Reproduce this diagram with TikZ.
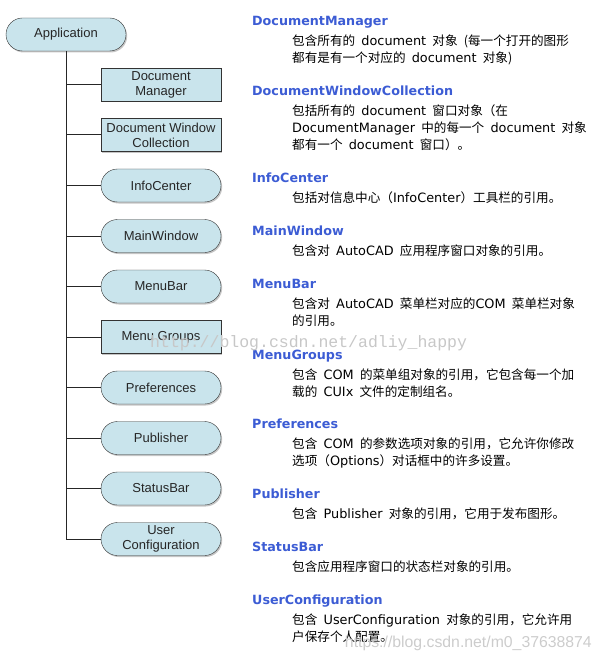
\documentclass[tikz,border=0pt]{standalone}
\usepackage{fontspec}
\setmainfont{Liberation Sans}
\newfontfamily\verd{DejaVu Sans}
\newfontfamily\latn[Scale=1.02]{DejaVu Sans}
\newfontfamily\cjk[WordSpace=2.2]{Noto Sans CJK SC}
\newfontfamily\wmfont{Liberation Mono}
\usetikzlibrary{positioning,shapes.misc,shadows}
\definecolor{boxblue}{RGB}{201,228,236}
\definecolor{headblue}{RGB}{60,92,212}
\newcommand{\en}[1]{{\latn #1}}
\tikzset{
  obj/.style={draw=black!80, fill=boxblue, rounded rectangle, minimum width=120pt, minimum height=33pt,
    inner sep=0pt, align=center, text=black!85, font=\fontsize{13}{15}\selectfont,
    drop shadow={shadow xshift=1.2pt, shadow yshift=-1.5pt, fill=black!45}},
  coll/.style={obj, rectangle},
  branch/.style={draw=black!85, line width=1pt},
  head/.style={anchor=west, inner sep=0pt, text height=9.3pt, text depth=0pt, text=headblue,
    font=\verd\bfseries\fontsize{12.7}{15}\selectfont},
  desc/.style={inner sep=0pt, align=left, font=\cjk\fontsize{12.6}{17}\selectfont}
}
\begin{document}
\begin{tikzpicture}[x=1pt,y=-1pt]
\useasboundingbox (0,0) rectangle (601,663);
\node[obj] (app) at (66,34.5) {Application};
\foreach \nm/\st/\txt [count=\i from 0] in {dm/coll/Document\\Manager, dwc/coll/Document Window\\Collection,
  ic/obj/InfoCenter, mw/obj/MainWindow, mb/obj/MenuBar, mg/coll/Menu Groups, pr/obj/Preferences,
  pb/obj/Publisher, sb/obj/StatusBar, uc/obj/User\\Configuration}
{
  \node[\st] (\nm) at (161,84.5+50.5*\i) {\txt};
  \draw[branch] (app.south) |- (\nm.west);
}
\node[head] (hdm) at (252,21) {DocumentManager};
\node[desc, below right=13.5pt and 40pt of hdm.west] (tdm) {包含所有的 \en{document} 对象 (每一个打开的图形\\都有是有一个对应的 \en{document} 对象)};
\node[head] (hdwc) at (252,91) {DocumentWindowCollection};
\node[desc, below right=13.5pt and 40pt of hdwc.west] (tdwc) {包括所有的 \en{document} 窗口对象（在\\\en{DocumentManager} 中的每一个 \en{document} 对象\\都有一个 \en{document} 窗口）。};
\node[head] (hic) at (252,178) {InfoCenter};
\node[desc, below right=13.5pt and 40pt of hic.west] (tic) {包括对信息中心（\en{InfoCenter}）工具栏的引用。};
\node[head] (hmw) at (252,231) {MainWindow};
\node[desc, below right=13.5pt and 40pt of hmw.west] (tmw) {包含对 \en{AutoCAD} 应用程序窗口对象的引用。};
\node[head] (hmb) at (252,284) {MenuBar};
\node[desc, below right=13.5pt and 40pt of hmb.west] (tmb) {包含对 \en{AutoCAD} 菜单栏对应的\en{COM} 菜单栏对象\\的引用。};
\node[head] (hmg) at (252,355) {MenuGroups};
\node[desc, below right=13.5pt and 40pt of hmg.west] (tmg) {包含 \en{COM} 的菜单组对象的引用，它包含每一个加\\载的 \en{CUIx} 文件的定制组名。};
\node[head] (hpr) at (252,424) {Preferences};
\node[desc, below right=13.5pt and 40pt of hpr.west] (tpr) {包含 \en{COM} 的参数选项对象的引用，它允许你修改\\选项（\en{Options}）对话框中的许多设置。};
\node[head] (hpb) at (252,494) {Publisher};
\node[desc, below right=13.5pt and 40pt of hpb.west] (tpb) {包含 \en{Publisher} 对象的引用，它用于发布图形。};
\node[head] (hsb) at (252,547) {StatusBar};
\node[desc, below right=13.5pt and 40pt of hsb.west] (tsb) {包含应用程序窗口的状态栏对象的引用。};
\node[head] (huc) at (252,600) {UserConfiguration};
\node[desc, below right=13.5pt and 40pt of huc.west] (tuc) {包含 \en{UserConfiguration} 对象的引用，它允许用\\户保存个人配置。};
\node[anchor=west, inner sep=0pt, text=black!22, font=\wmfont\fontsize{16.5}{18}\selectfont] (wm1) at (150,343) {http://blog.csdn.net/adliy\_happy};
\node[anchor=east, inner sep=0pt, text=black!20, font=\fontsize{15.8}{18}\selectfont] (wm2) at (592,643) {https://blog.csdn.net/m0\_37638874};
\end{tikzpicture}
\end{document}
